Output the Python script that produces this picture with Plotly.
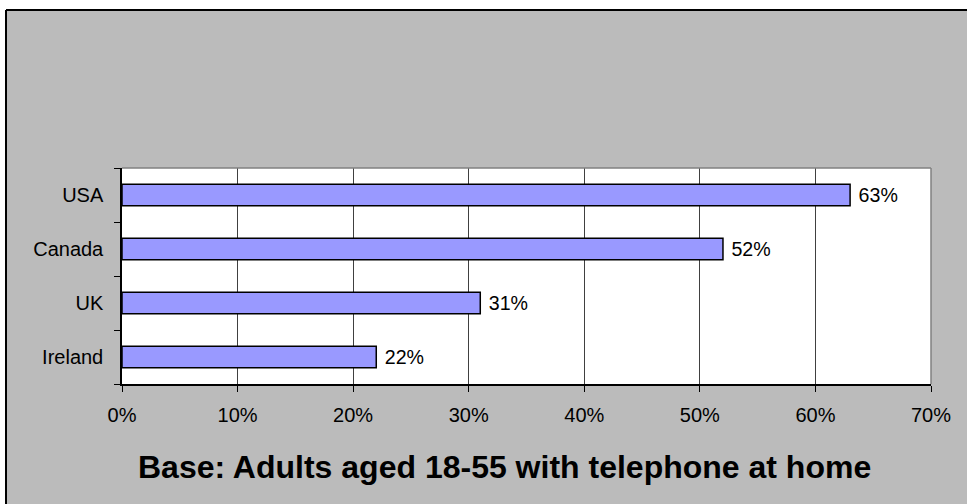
import plotly.graph_objects as go

# Share of adults (18-55, telephone at home) per country
countries = ["Ireland", "UK", "Canada", "USA"]
shares = [0.22, 0.31, 0.52, 0.63]
x_ticks = [0.0, 0.1, 0.2, 0.3, 0.4, 0.5, 0.6, 0.7]
x_tick_labels = ["0%", "10%", "20%", "30%", "40%", "50%", "60%", "70%"]
caption = "Base: Adults aged 18-55 with telephone at home"

W, H = 967, 504
L, R, T, B = 122, 36, 168, 120
pw, ph = W - L - R, H - T - B

def px_x(p):
    return (p - L) / pw

def px_y(p):
    return (H - B - p) / ph

FONT = "Liberation Sans, Arial, sans-serif"
GRAY = "#BBBBBB"

fig = go.Figure(
    go.Bar(
        x=shares,
        y=countries,
        orientation="h",
        width=0.4,
        marker=dict(color="#9999FF", line=dict(color="black", width=1.5)),
        text=[f"\u00a0{v:.0%}" for v in shares],
        textposition="outside",
        textfont=dict(family=FONT, size=20, color="black"),
        cliponaxis=False,
    )
)

shapes = [
    # white strips outside the framed chart
    dict(type="rect", xref="paper", yref="paper", x0=px_x(0), x1=px_x(W), y0=px_y(10), y1=px_y(0),
         fillcolor="white", line=dict(width=0), layer="below"),
    dict(type="rect", xref="paper", yref="paper", x0=px_x(0), x1=px_x(6), y0=px_y(H), y1=px_y(0),
         fillcolor="white", line=dict(width=0), layer="below"),
    # chart frame (top and left edges)
    dict(type="line", xref="paper", yref="paper", x0=px_x(6), x1=px_x(W), y0=px_y(10), y1=px_y(10),
         line=dict(color="black", width=2)),
    dict(type="line", xref="paper", yref="paper", x0=px_x(6), x1=px_x(6), y0=px_y(10), y1=px_y(H),
         line=dict(color="black", width=2)),
    # gray top/right border of plot area
    dict(type="line", xref="paper", yref="paper", x0=0, x1=1, y0=1, y1=1,
         line=dict(color="#808080", width=1.5)),
    dict(type="line", xref="paper", yref="paper", x0=1, x1=1, y0=0, y1=1,
         line=dict(color="#808080", width=1.5)),
]

fig.update_layout(
    width=W,
    height=H,
    margin=dict(l=L, r=R, t=T, b=B, pad=0),
    paper_bgcolor=GRAY,
    plot_bgcolor="white",
    showlegend=False,
    font=dict(family=FONT, size=20, color="black"),
    shapes=shapes,
    bargap=0.6,
    annotations=[
        dict(text=f"<b>{caption}</b>", xref="paper", yref="paper",
             x=px_x(504), y=px_y(467), xanchor="center", yanchor="middle",
             showarrow=False, font=dict(family=FONT, size=32, color="black"))
    ],
)

fig.update_xaxes(
    range=[0, 0.7],
    tickvals=x_ticks,
    ticktext=x_tick_labels,
    showgrid=True,
    gridcolor="#404040",
    gridwidth=1,
    showline=True,
    linecolor="black",
    linewidth=1.5,
    ticks="outside",
    ticklen=6,
    tickcolor="black",
    tickfont=dict(family=FONT, size=20, color="black"),
    ticklabelstandoff=6,
    zeroline=False,
    fixedrange=True,
)

fig.update_yaxes(
    categoryorder="array",
    categoryarray=countries,
    showgrid=False,
    showline=True,
    linecolor="black",
    linewidth=1.5,
    ticks="outside",
    tickson="boundaries",
    ticklen=6,
    tickcolor="black",
    tickfont=dict(family=FONT, size=20, color="black"),
    ticklabelstandoff=13,
    fixedrange=True,
)

fig.write_html("out.html")
